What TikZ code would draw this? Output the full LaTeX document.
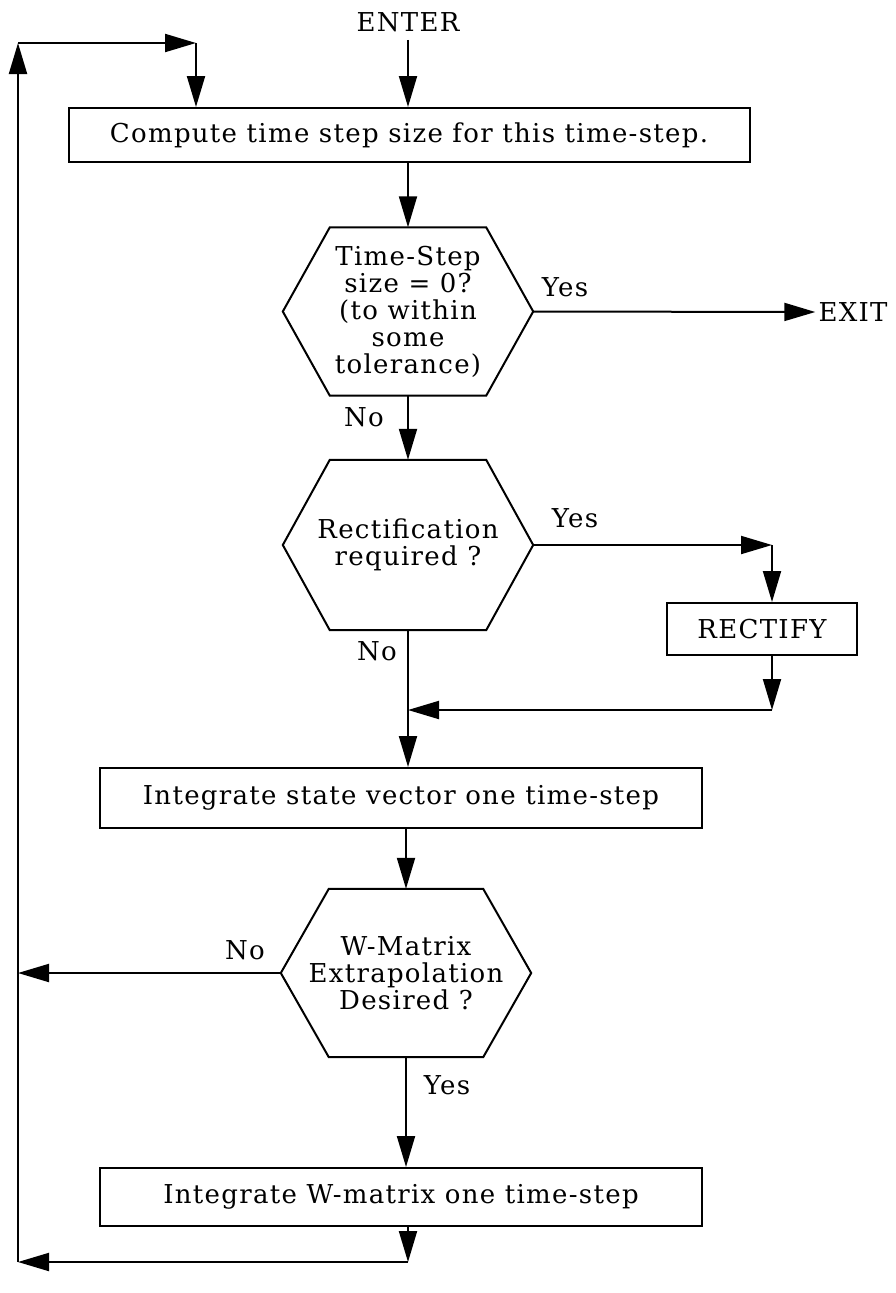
\documentclass[tikz,border=0pt]{standalone}
\usepackage{fontspec}
\setmainfont{DejaVu Serif}[LetterSpace=5]
\usetikzlibrary{arrows.meta}

% outline of a decision hexagon drawn around a (borderless) node
\newcommand\hexoutline[2]{%
  \draw[hexline] (#1.west) -- ([xshift=#2]#1.north west) -- ([xshift=-#2]#1.north east)
    -- (#1.east) -- ([xshift=-#2]#1.south east) -- ([xshift=#2]#1.south west) -- cycle;}

\begin{document}
\begin{tikzpicture}[x=1pt,y=-1pt,
  every node/.style={font=\fontsize{26}{27}\selectfont, inner sep=0pt},
  procbox/.style={draw, line width=2pt, minimum height=#1, align=center},
  hexnode/.style={minimum width=250pt, minimum height=168pt, align=center},
  hexline/.style={line width=2pt, line join=miter},
  flow/.style={line width=2pt, -{Triangle[length=31pt,width=18pt]}},
  lbl/.style={}
]
\useasboundingbox (0,0) rectangle (895,1293);

% entry and first process block
\node (enter) at (408,22) {ENTER};
\node[procbox=54pt, minimum width=681pt] (box1) at (409,135) {Compute time step size for this time-step.};

% first decision: zero step size
\node[hexnode] (hex1) at (408,311.5) {Time-Step\\size = 0?\\(to within\\some\\tolerance)};
\hexoutline{hex1}{47pt}
\node (exit) at (853,312) {EXIT};
\node[lbl] at (565,287) {Yes};
\node[lbl] at (364,417) {No};

% second decision: rectification
\node[hexnode, minimum height=170pt] (hex2) at (408,545) {Rectification\\required ?};
\hexoutline{hex2}{47pt}
\node[lbl] at (575,518) {Yes};
\node[lbl] at (377,651) {No};
\node[procbox=52pt, minimum width=190pt] (rect) at (762,629) {RECTIFY};

% state vector integration
\node[procbox=60pt, minimum width=602pt] (box2) at (401,798) {Integrate state vector one time-step};

% third decision: W-matrix extrapolation
\node[hexnode] (hex3) at (406,973) {W-Matrix\\Extrapolation\\Desired ?};
\hexoutline{hex3}{48pt}
\node[lbl] at (245,950) {No};
\node[lbl] at (447,1085) {Yes};

% W-matrix integration
\node[procbox=58pt, minimum width=602pt] (box3) at (401,1197) {Integrate W-matrix one time-step};

% routing points
\coordinate (ryes) at (772,545);
\coordinate (rret) at (772,710);
\coordinate (rjoin) at (408,710);
\coordinate (noleft) at (18,973);
\coordinate (bot) at (408,1262);
\coordinate (botleft) at (18,1262);
\coordinate (topleft) at (18,43);
\coordinate (topright) at (196,43);

% main flow
\draw[flow] (enter.south) ++(0,8) -- (box1.north -| enter);
\draw[flow] (box1.south -| enter) -- (hex1.north);
\draw[flow] (hex1.east) -- ([xshift=-3pt]exit.west);
\draw[flow] (hex1.south) -- (hex2.north);
\draw[flow] (hex2.east) -- (ryes);
\draw[flow] (ryes) -- (ryes |- rect.north);
\draw[flow] (ryes |- rect.south) -- (rret);
\draw[flow] (rret) -- (rjoin);
\draw[flow] (hex2.south) -- (box2.north -| hex2.south);
\draw[flow] (box2.south -| hex3.north) -- (hex3.north);
\draw[flow] (hex3.west) -- (noleft);
\draw[flow] (hex3.south) -- (box3.north -| hex3.south);
\draw[flow] (box3.south -| bot) -- (bot);

% loop back to the top
\draw[flow] (bot) -- (botleft);
\draw[flow] (botleft) -- (topleft);
\draw[flow] (topleft) -- (topright);
\draw[flow] (topright) -- (topright |- box1.north);
\end{tikzpicture}
\end{document}
